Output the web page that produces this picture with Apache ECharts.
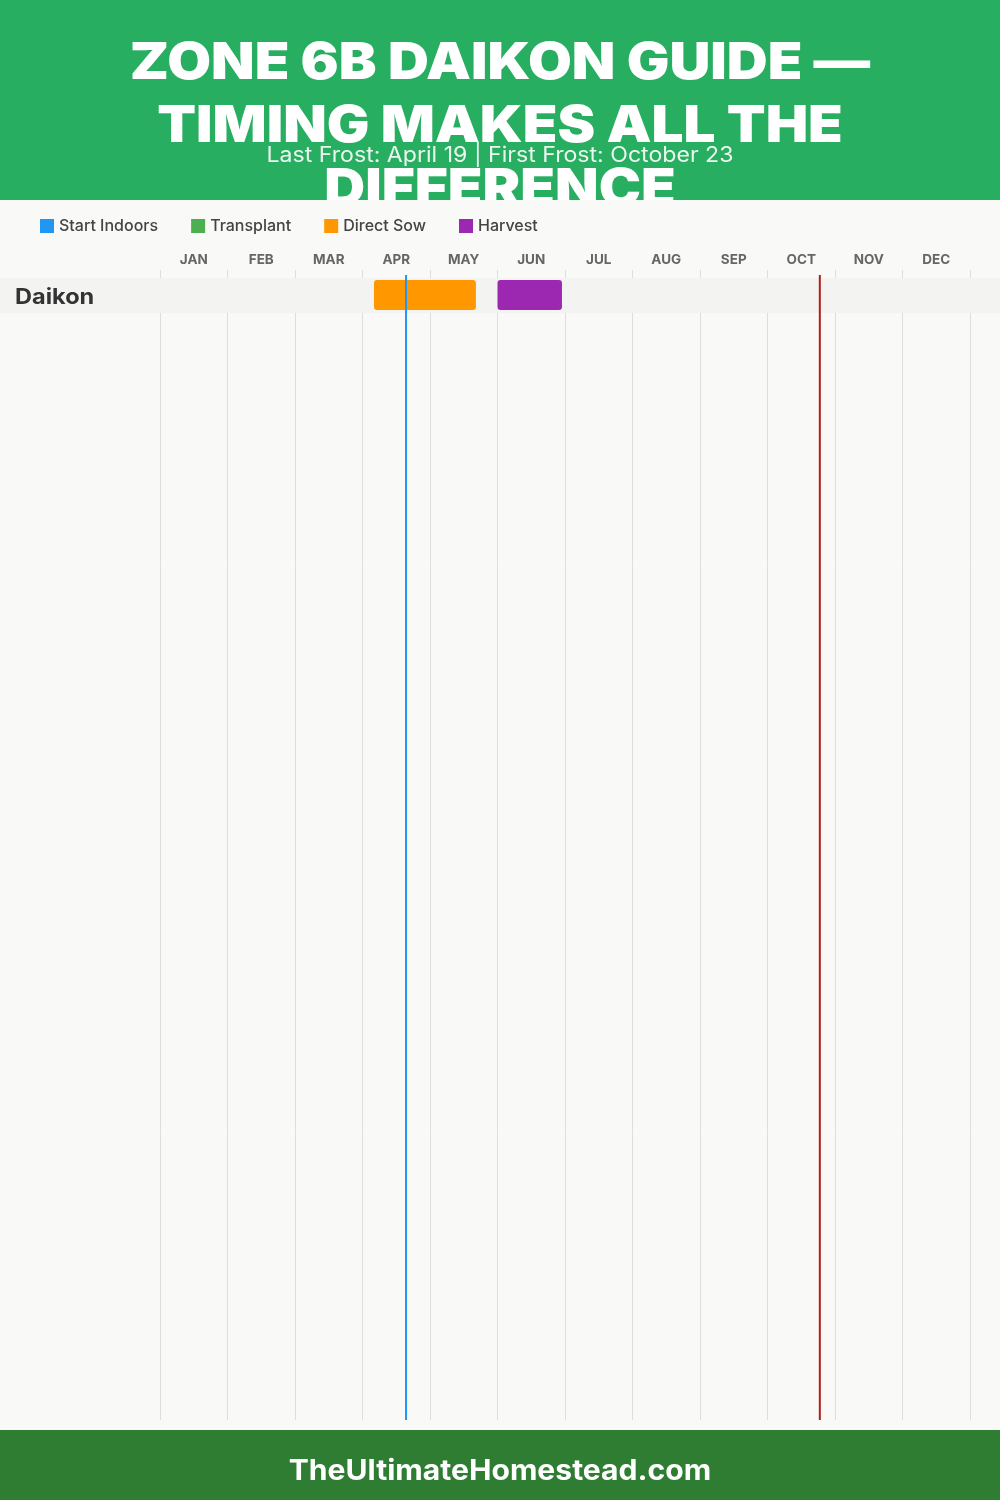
<!DOCTYPE html>
<html>
<head>
<meta charset="utf-8">
<script src="https://cdn.jsdelivr.net/npm/echarts@6/dist/echarts.min.js"></script>
<style>html,body{margin:0;padding:0;background:#f9f9f8;}#c{width:1000px;height:1500px;}</style>
</head>
<body>
<div id="c"></div>
<script>
// ---- data ----
const months = ['JAN','FEB','MAR','APR','MAY','JUN','JUL','AUG','SEP','OCT','NOV','DEC'];
const crops = ['Daikon'];
// [rowIndex, startMonth, endMonth]  (month index + fraction of month)
const startIndoors = [];
const transplant = [];
const directSow = [[0, 3.17, 4.68]];
const harvest = [[0, 5.0, 5.955]];
const frostDates = [3.645, 9.775]; // Last frost Apr 19, first frost Oct 23
const titleLines = ['ZONE 6B DAIKON GUIDE —', 'TIMING MAKES ALL THE', 'DIFFERENCE'];
const subtitle = 'Last Frost: April 19 | First Frost: October 23';
const footer = 'TheUltimateHomestead.com';

// ---- styles ----
const FONT = 'Inter, "Open Sans", sans-serif';
const rowPx = 35;
const gridTop = 278, gridBottom = 80;
const rowsMax = (1500 - gridTop - gridBottom) / rowPx;
const frostColors = ['#2196f3', '#b71c1c'];

const chart = echarts.init(document.getElementById('c'), null, {renderer: 'canvas'});

function taskRender(params, api) {
  const row = api.value(0);
  const p0 = api.coord([api.value(1), row + 2 / rowPx]);
  const p1 = api.coord([api.value(2), row + 1 - 3 / rowPx]);
  return {
    type: 'rect',
    shape: {x: p0[0], y: p0[1], width: p1[0] - p0[0], height: p1[1] - p0[1], r: 3},
    style: {fill: api.visual('color')}
  };
}

function titleText(i, y) {
  return {type: 'text', z: 1, x: 500, y: y, scaleX: 1.11,
    style: {text: titleLines[i], fill: '#fff', font: '900 51px ' + FONT, align: 'center', verticalAlign: 'middle'}};
}

const option = {
  backgroundColor: '#f9f9f8',
  animation: false,
  textStyle: {fontFamily: FONT},
  grid: {left: 160, right: 30, top: gridTop, bottom: gridBottom, containLabel: false},
  legend: {
    data: ['Start Indoors', 'Transplant', 'Direct Sow', 'Harvest'],
    left: 35, top: 213, itemWidth: 14, itemHeight: 14, itemGap: 33, icon: 'rect',
    textStyle: {fontSize: 16, color: '#444', fontFamily: FONT, fontWeight: 500}
  },
  xAxis: [
    {
      type: 'value', min: 0, max: 12, interval: 1, position: 'top',
      axisLine: {show: false}, axisTick: {show: false}, axisLabel: {show: false},
      splitLine: {show: true, lineStyle: {color: '#dedede', width: 1}}
    },
    {
      type: 'category', data: months, position: 'top', boundaryGap: true,
      axisLine: {show: false},
      axisTick: {show: true, length: 8, lineStyle: {color: '#dedede'}},
      axisLabel: {color: '#666', fontSize: 13.5, fontWeight: 'bold', margin: 11, fontFamily: FONT},
      splitLine: {show: false}
    }
  ],
  yAxis: {type: 'value', min: 0, max: rowsMax, inverse: true, show: false},
  series: [
    {
      name: 'rows', type: 'custom', z: 1, silent: true,
      data: crops.map((c, i) => ({name: c, value: [i]})),
      encode: {y: 0},
      renderItem: function (params, api) {
        const row = api.value(0);
        const y0 = api.coord([0, row])[1];
        const y1 = api.coord([0, row + 1])[1];
        return {
          type: 'group',
          children: [
            {type: 'rect', shape: {x: 0, y: y0, width: api.getWidth(), height: y1 - y0},
             style: {fill: '#f3f3f2'}},
            {type: 'text', x: 15, y: (y0 + y1) / 2 + 2, scaleX: 1.12,
             style: {text: crops[params.dataIndex], fill: '#333', font: 'bold 21px ' + FONT,
                     align: 'left', verticalAlign: 'middle'}}
          ]
        };
      }
    },
    {name: 'Start Indoors', type: 'custom', z: 3, itemStyle: {color: '#2196f3'}, data: startIndoors, encode: {x: [1, 2], y: 0}, renderItem: taskRender},
    {name: 'Transplant', type: 'custom', z: 3, itemStyle: {color: '#4caf50'}, data: transplant, encode: {x: [1, 2], y: 0}, renderItem: taskRender},
    {name: 'Direct Sow', type: 'custom', z: 3, itemStyle: {color: '#ff9800'}, data: directSow, encode: {x: [1, 2], y: 0}, renderItem: taskRender},
    {name: 'Harvest', type: 'custom', z: 3, itemStyle: {color: '#9c27b0'}, data: harvest, encode: {x: [1, 2], y: 0}, renderItem: taskRender},
    {
      name: 'frost', type: 'custom', z: 4, silent: true,
      data: frostDates.map(d => [d]),
      encode: {x: 0},
      renderItem: function (params, api) {
        const cs = params.coordSys;
        const x = api.coord([api.value(0), 0])[0];
        return {
          type: 'line',
          shape: {x1: x, y1: cs.y - 3, x2: x, y2: cs.y + cs.height},
          style: {stroke: frostColors[params.dataIndex], lineWidth: 2}
        };
      }
    }
  ],
  graphic: [
    {type: 'rect', z: 0, shape: {x: 0, y: 0, width: 1000, height: 200}, style: {fill: '#27ae60'}},
    titleText(0, 64),
    titleText(1, 127),
    titleText(2, 190),
    {type: 'text', z: 2, x: 500, y: 156, scaleX: 1.1, style: {text: subtitle, fill: 'rgba(255,255,255,0.9)', font: '21px ' + FONT, align: 'center', verticalAlign: 'middle'}},
    {type: 'rect', z: 3, shape: {x: 0, y: 200, width: 1000, height: 12}, style: {fill: '#f9f9f8'}},
    {type: 'rect', z: 0, shape: {x: 0, y: 1430, width: 1000, height: 70}, style: {fill: '#2e7d32'}},
    {type: 'text', z: 1, x: 500, y: 1472, scaleX: 1.075, style: {text: footer, fill: '#fff', font: 'bold 28px ' + FONT, align: 'center', verticalAlign: 'middle'}}
  ]
};
chart.setOption(option);
</script>
</body>
</html>
